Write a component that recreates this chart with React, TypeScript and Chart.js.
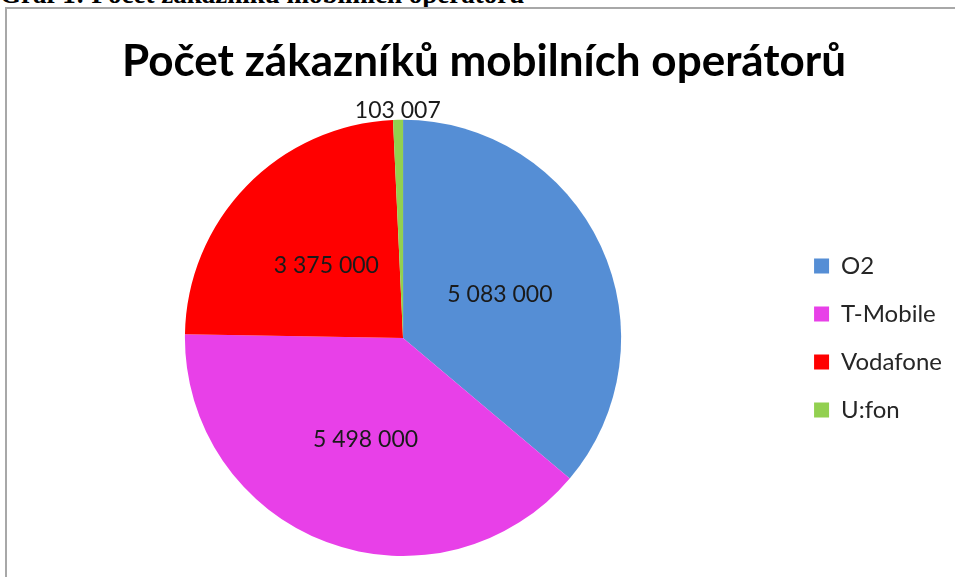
import React, { useEffect, useRef } from "react";
import { Chart, registerables } from "chart.js";

Chart.register(...registerables);

const categories = ["O2", "T-Mobile", "Vodafone", "U:fon"];
const customers = [5083000, 5498000, 3375000, 103007];
const sliceColors = ["#558ED5", "#E840E8", "#FF0000", "#92D050"];
const chartTitle = "Počet zákazníků mobilních operátorů";
const captionText = "Graf 1: Počet zákazníků mobilních operátorů";

function formatSpaces(v: number): string {
  return String(v).replace(/\B(?=(\d{3})+(?!\d))/g, " ");
}

const labelPlugin = {
  id: "sliceLabels",
  afterDatasetsDraw(chart: any) {
    const ctx = chart.ctx;
    const meta = chart.getDatasetMeta(0);
    const data = chart.data.datasets[0].data as number[];
    const total = data.reduce((a, b) => a + b, 0);
    ctx.save();
    ctx.font = "23px Lato";
    ctx.fillStyle = "#1a1a1a";
    ctx.textAlign = "center";
    ctx.textBaseline = "middle";
    meta.data.forEach((arc: any, i: number) => {
      const p = arc.getProps(["x", "y", "startAngle", "endAngle", "outerRadius"], true);
      const mid = (p.startAngle + p.endAngle) / 2;
      const frac = data[i] / total;
      const d = frac < 0.02 ? p.outerRadius + 9 : p.outerRadius * 0.49;
      ctx.fillText(formatSpaces(data[i]), p.x + Math.cos(mid) * d, p.y + Math.sin(mid) * d + (frac < 0.02 ? 0 : 2));
    });
    ctx.restore();
  },
};

export default function App() {
  const ref = useRef<HTMLCanvasElement | null>(null);
  useEffect(() => {
    document.documentElement.style.overflow = "hidden";
    document.body.style.overflow = "hidden";
    const chart = new Chart(ref.current as HTMLCanvasElement, {
      type: "pie",
      data: {
        labels: categories,
        datasets: [
          {
            data: customers,
            backgroundColor: sliceColors,
            borderWidth: 0,
          },
        ],
      },
      options: {
        responsive: false,
        animation: false,
        layout: { padding: { left: 9, right: 3, top: 0, bottom: 21 } },
        plugins: {
          tooltip: { enabled: false },
          title: {
            display: true,
            text: chartTitle,
            color: "#000000",
            font: { family: "Lato", size: 44, weight: "bold" },
            padding: { top: 26, bottom: 32 },
          },
          legend: {
            position: "right",
            fullSize: false,
            labels: {
              boxWidth: 15,
              boxHeight: 15,
              padding: 24,
              color: "#262626",
              font: { family: "Lato", size: 24 },
            },
          },
        },
      },
      plugins: [labelPlugin],
    });
    return () => chart.destroy();
  }, []);

  return (
    <div style={{ position: "absolute", left: 0, top: 0, width: 955, height: 577, overflow: "hidden", background: "#fff" }}>
      <div
        style={{
          position: "absolute",
          left: 0,
          top: -19,
          lineHeight: "27px",
          fontFamily: "'Liberation Serif', serif",
          fontWeight: "bold",
          fontSize: 27,
          whiteSpace: "nowrap",
          color: "#000",
        }}
      >
        {captionText}
      </div>
      <div
        style={{
          position: "absolute",
          left: 5,
          top: 7,
          width: 2000,
          height: 2000,
          borderLeft: "2px solid #a8a8a8",
          borderTop: "2px solid #a8a8a8",
          background: "#fff",
        }}
      />
      <canvas
        ref={ref}
        width={948}
        height={568}
        style={{ position: "absolute", left: 7, top: 9, width: 948, height: 568 }}
      />
    </div>
  );
}
